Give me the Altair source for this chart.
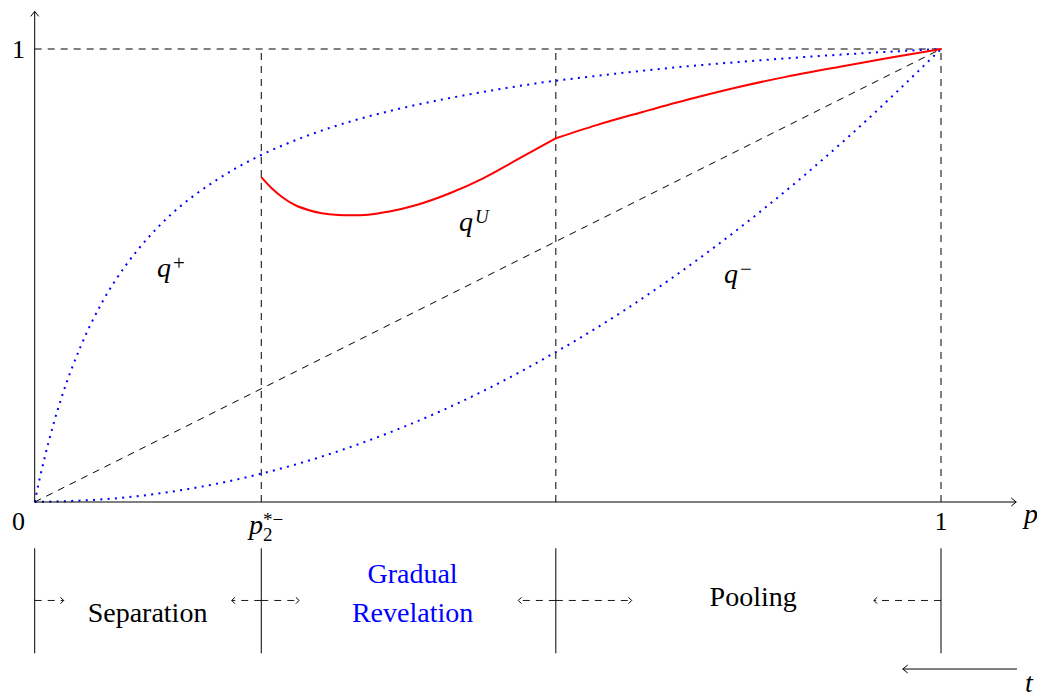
import altair as alt
import pandas as pd

# ---------------- data ----------------
QPLUS_P = [0.0, 0.005, 0.01, 0.02, 0.03, 0.05, 0.075, 0.1, 0.125, 0.15, 0.2, 0.25,
           0.3, 0.35, 0.4, 0.5, 0.575, 0.6, 0.7, 0.8, 0.9, 1.0]
QPLUS_V = [0.0, 0.047, 0.090, 0.167, 0.233, 0.340, 0.443, 0.521, 0.583, 0.634, 0.710, 0.766,
           0.808, 0.841, 0.867, 0.907, 0.930, 0.936, 0.958, 0.975, 0.989, 1.0]

QMINUS_P = [0.0, 0.1, 0.2, 0.25, 0.3, 0.4, 0.5, 0.575, 0.6, 0.7, 0.8, 0.9, 1.0]
QMINUS_V = [0.0, 0.010, 0.040, 0.0625, 0.090, 0.160, 0.250, 0.331, 0.360, 0.490, 0.640, 0.810, 1.0]

QU_P1 = [0.2505, 0.2615, 0.2725, 0.2872, 0.3019, 0.3167, 0.3350, 0.3498, 0.3681, 0.3902,
         0.4213, 0.458, 0.4948, 0.5317, 0.575]
QU_V1 = [0.7159, 0.6925, 0.6740, 0.6556, 0.6446, 0.6373, 0.6336, 0.6329, 0.6342, 0.6408,
         0.6556, 0.6815, 0.7146, 0.7550, 0.8029]
QU_P2 = [0.575, 0.62, 0.6678, 0.72, 0.778, 0.83, 0.8885, 0.945, 1.0]
QU_V2 = [0.8029, 0.832, 0.8594, 0.888, 0.9168, 0.939, 0.9609, 0.981, 1.0]

BOUNDARIES = [0.0, 0.25, 0.575, 1.0]          # 0, p2*-, second threshold, 1
REGION_ARROWS = [(0.0, 0.032), (0.25, 0.2174), (0.25, 0.2917),
                 (0.575, 0.5336), (0.575, 0.6587), (1.0, 0.926)]

# ---------------- layout ----------------
W, H = 1029, 690
XPX, YPX = 906.3, 453.0
XMIN = -26.7 / XPX
XMAX = XMIN + W / XPX
YMAX = 494.0 / YPX
YMIN = YMAX - H / YPX
AX_END = 1.083
BAND_TOP, BAND_BOT, ARROW_Y = -0.1022, -0.334, -0.2174
T_Y, T_FROM, T_TO = -0.3687, 1.0838, 0.9578
DASH = [7, 6]
FONT = "Liberation Serif"
BLUE = "#0000ff"
RED = "#ff0000"

xs = alt.Scale(domain=[XMIN, XMAX], nice=False, zero=False)
ys = alt.Scale(domain=[YMIN, YMAX], nice=False, zero=False)


def X(f="x"):
    return alt.X(f"{f}:Q", scale=xs, axis=None)


def Y(f="y"):
    return alt.Y(f"{f}:Q", scale=ys, axis=None)


def rules(rows, **kw):
    df = pd.DataFrame(rows, columns=["x", "y", "x2", "y2"])
    return alt.Chart(df).mark_rule(**kw).encode(
        x=X(), y=Y(), x2=alt.X2("x2:Q"), y2=alt.Y2("y2:Q"))


def heads(rows, size, path="M-1,-0.8L0,0L-1,0.8"):
    df = pd.DataFrame(rows, columns=["x", "y", "angle"])
    return alt.Chart(df).mark_point(shape=path, filled=False, size=size, color="black",
                                    strokeWidth=1, opacity=1).encode(
        x=X(), y=Y(), angle=alt.Angle("angle:Q", scale=None))


def texts(rows, size, italic=False, align="left", color="black"):
    df = pd.DataFrame(rows, columns=["text", "x", "y"])
    return alt.Chart(df).mark_text(font=FONT, fontSize=size,
                                   fontStyle="italic" if italic else "normal",
                                   align=align, baseline="alphabetic", color=color).encode(
        x=X(), y=Y(), text="text:N")


# dashed guides
guide_rows = [(0.0, 1.0, 1.0, 1.0), (0.0, 0.0, 1.0, 1.0)]
guide_rows += [(b, 0.0, b, 1.0) for b in BOUNDARIES[1:]]
guides = rules(guide_rows, color="black", strokeWidth=1, strokeDash=DASH)

# curves
qplus = pd.DataFrame({"x": QPLUS_P, "y": QPLUS_V})
qminus = pd.DataFrame({"x": QMINUS_P, "y": QMINUS_V})
qu = pd.DataFrame({"x": QU_P1 + QU_P2, "y": QU_V1 + QU_V2,
                   "seg": [1] * len(QU_P1) + [2] * len(QU_P2)})

blue_lines = [
    alt.Chart(d).mark_line(color=BLUE, strokeWidth=2, strokeDash=[2, 5.3],
                           interpolate="monotone").encode(x=X(), y=Y())
    for d in (qplus, qminus)
]
red_line = alt.Chart(qu).mark_line(color=RED, strokeWidth=2, interpolate="monotone",
                                   strokeCap="round").encode(
    x=X(), y=Y(), detail="seg:N")

# axes
axes = rules([(0.0, 0.0, AX_END, 0.0), (0.0, 0.0, 0.0, AX_END)], color="black", strokeWidth=1)
axis_heads = heads([(AX_END, 0.0, 0), (0.0, AX_END, 270)], 100)

# bottom band
band = rules([(b, BAND_TOP, b, BAND_BOT) for b in BOUNDARIES], color="black", strokeWidth=1)
region_arrows = rules([(a, ARROW_Y, b, ARROW_Y) for a, b in REGION_ARROWS],
                      color="black", strokeWidth=0.9, strokeDash=DASH)
region_heads = heads([(b, ARROW_Y, 0 if b > a else 180) for a, b in REGION_ARROWS], 40,
                     path="M-1,-1L0,0L-1,1")
t_arrow = rules([(T_FROM, T_Y, T_TO, T_Y)], color="black", strokeWidth=1)
t_head = heads([(T_TO, T_Y, 180)], 100)

# labels
digits = alt.layer(
    texts([("0", -0.0107, -0.0618), ("1", -0.0107, 0.980)], 26, align="right"),
    texts([("1", 1.0, -0.0618)], 26, align="center"),
)
regions = alt.layer(
    texts([("Separation", 0.1245, -0.2642), ("Pooling", 0.7927, -0.2289)], 28, align="center"),
    texts([("Gradual", 0.4169, -0.1795), ("Revelation", 0.4169, -0.2642)], 28,
          align="center", color=BLUE),
)
math_main = alt.layer(
    texts([("p", 1.0916, -0.0464), ("t", 1.0927, -0.419), ("q", 0.1349, 0.4967),
           ("q", 0.4682, 0.5982), ("q", 0.7606, 0.4834)], 28, italic=True),
    texts([("p", 0.2519, -0.0706)], 28, italic=True, align="right"),
)
math_script = alt.layer(
    texts([("2", 0.2519, -0.0861), ("*\u2212", 0.2519, -0.053)], 19),
    texts([("+", 0.1526, 0.5115), ("\u2212", 0.7782, 0.4982)], 21),
    texts([("U", 0.4858, 0.6152)], 19, italic=True),
)

chart = alt.layer(
    guides, *blue_lines, red_line, axes, axis_heads, band, region_arrows, region_heads,
    t_arrow, t_head, digits, regions, math_main, math_script,
).properties(
    width=W, height=H, padding=0, autosize=alt.AutoSizeParams(type="none"),
    background="white",
).configure_view(stroke=None)

chart.save("out.html", embed_options={"renderer": "svg", "actions": False})
